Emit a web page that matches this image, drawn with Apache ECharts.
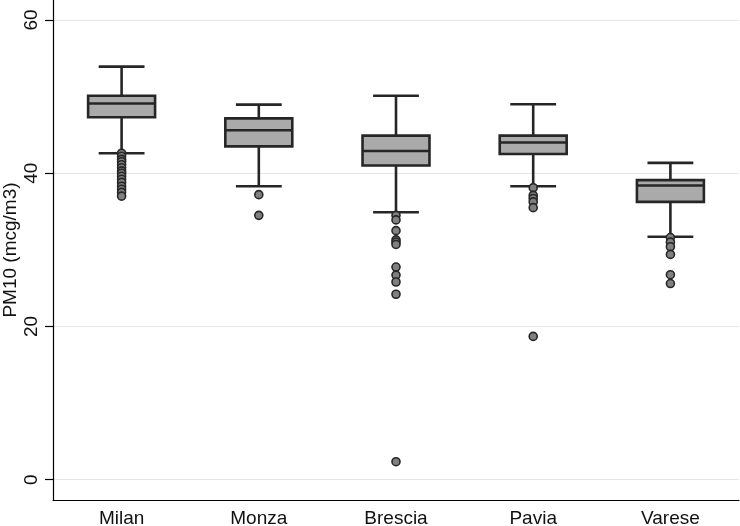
<!DOCTYPE html>
<html>
<head>
<meta charset="utf-8">
<script src="https://cdn.jsdelivr.net/npm/echarts@6/dist/echarts.min.js"></script>
<style>html,body{margin:0;padding:0;background:#fff}#c{width:740px;height:526px}</style>
</head>
<body>
<div id="c"></div>
<script>
const categories = ['Milan', 'Monza', 'Brescia', 'Pavia', 'Varese'];
// [lower whisker, Q1, median, Q3, upper whisker]
const milanBox   = [42.6, 47.3, 49.1, 50.1, 53.9];
const monzaBox   = [38.3, 43.5, 45.6, 47.15, 48.95];
const bresciaBox = [34.9, 41.0, 42.9, 44.9, 50.1];
const paviaBox   = [38.3, 42.5, 44.0, 44.9, 49.0];
const vareseBox  = [31.7, 36.25, 38.4, 39.1, 41.35];
const milanOut   = [42.6, 42.2, 41.8, 41.5, 41.1, 40.7, 40.3, 40.0, 39.6, 39.2, 38.8, 38.3, 37.9, 37.5, 37.0];
const monzaOut   = [37.2, 34.5];
const bresciaOut = [34.5, 33.9, 32.5, 31.3, 31.0, 30.7, 27.75, 26.7, 25.8, 24.2, 2.35];
const paviaOut   = [38.1, 37.1, 36.7, 36.25, 35.5, 18.7];
const vareseOut  = [31.6, 31.0, 30.4, 29.4, 26.75, 25.6];
const yTicks = [0, 20, 40, 60];

const boxes = [milanBox, monzaBox, bresciaBox, paviaBox, vareseBox];
const outs = [milanOut, monzaOut, bresciaOut, paviaOut, vareseOut];
const boxData = boxes.map((b, i) => [i].concat(b));
const outData = [];
outs.forEach((arr, i) => arr.forEach(v => outData.push([i, v])));

const FONT = '"Liberation Sans", Arial, sans-serif';
const DARK = '#262626';
const chart = echarts.init(document.getElementById('c'), null, {renderer: 'canvas'});
chart.setOption({
  animation: false,
  backgroundColor: '#fff',
  grid: {left: 53, right: 1, top: 0, bottom: 26, containLabel: false, outerBoundsMode: 'none'},
  xAxis: {
    type: 'category',
    data: categories,
    boundaryGap: true,
    axisLine: {onZero: false, lineStyle: {color: '#000', width: 1.2}},
    axisTick: {show: false},
    axisLabel: {color: '#111', fontFamily: FONT, fontSize: 19, margin: 9},
    splitLine: {show: false}
  },
  yAxis: {
    type: 'value',
    min: -2.65,
    max: 62.6,
    name: 'PM10 (mcg/m3)',
    nameLocation: 'middle',
    nameRotate: 90,
    nameGap: 33,
    nameMoveOverlap: false,
    nameTextStyle: {color: '#111', fontFamily: FONT, fontSize: 19},
    axisLine: {show: true, onZero: false, lineStyle: {color: '#000', width: 1.2}},
    axisTick: {show: true, length: 8, customValues: yTicks, lineStyle: {color: '#000', width: 1.2}},
    axisLabel: {color: '#111', fontFamily: FONT, fontSize: 19, rotate: 90, margin: 12, customValues: yTicks},
    splitLine: {show: true, lineStyle: {color: '#e6e6e6', width: 1}}
  },
  series: [
    {
      type: 'custom',
      data: boxData,
      encode: {x: 0, y: [1, 2, 3, 4, 5]},
      renderItem: function (params, api) {
        const idx = api.value(0);
        const lw = api.coord([idx, api.value(1)]);
        const q1 = api.coord([idx, api.value(2)]);
        const md = api.coord([idx, api.value(3)]);
        const q3 = api.coord([idx, api.value(4)]);
        const uw = api.coord([idx, api.value(5)]);
        const band = api.size([1, 0])[0];
        const bh = band * 0.244;
        const ch = band * 0.167;
        const x = lw[0];
        const ls = {stroke: DARK, lineWidth: 2.6, fill: null};
        return {
          type: 'group',
          children: [
            {type: 'line', shape: {x1: x, y1: uw[1], x2: x, y2: q3[1]}, style: ls},
            {type: 'line', shape: {x1: x, y1: q1[1], x2: x, y2: lw[1]}, style: ls},
            {type: 'line', shape: {x1: x - ch, y1: uw[1], x2: x + ch, y2: uw[1]}, style: ls},
            {type: 'line', shape: {x1: x - ch, y1: lw[1], x2: x + ch, y2: lw[1]}, style: ls},
            {type: 'rect', shape: {x: x - bh, y: q3[1], width: bh * 2, height: q1[1] - q3[1]},
              style: {fill: '#aaaaaa', stroke: DARK, lineWidth: 2.6}},
            {type: 'line', shape: {x1: x - bh, y1: md[1], x2: x + bh, y2: md[1]}, style: ls}
          ]
        };
      },
      z: 2
    },
    {
      type: 'scatter',
      data: outData,
      symbol: 'circle',
      symbolSize: 8,
      itemStyle: {color: '#808080', borderColor: DARK, borderWidth: 1.6, opacity: 1},
      z: 3
    }
  ]
});
</script>
</body>
</html>
